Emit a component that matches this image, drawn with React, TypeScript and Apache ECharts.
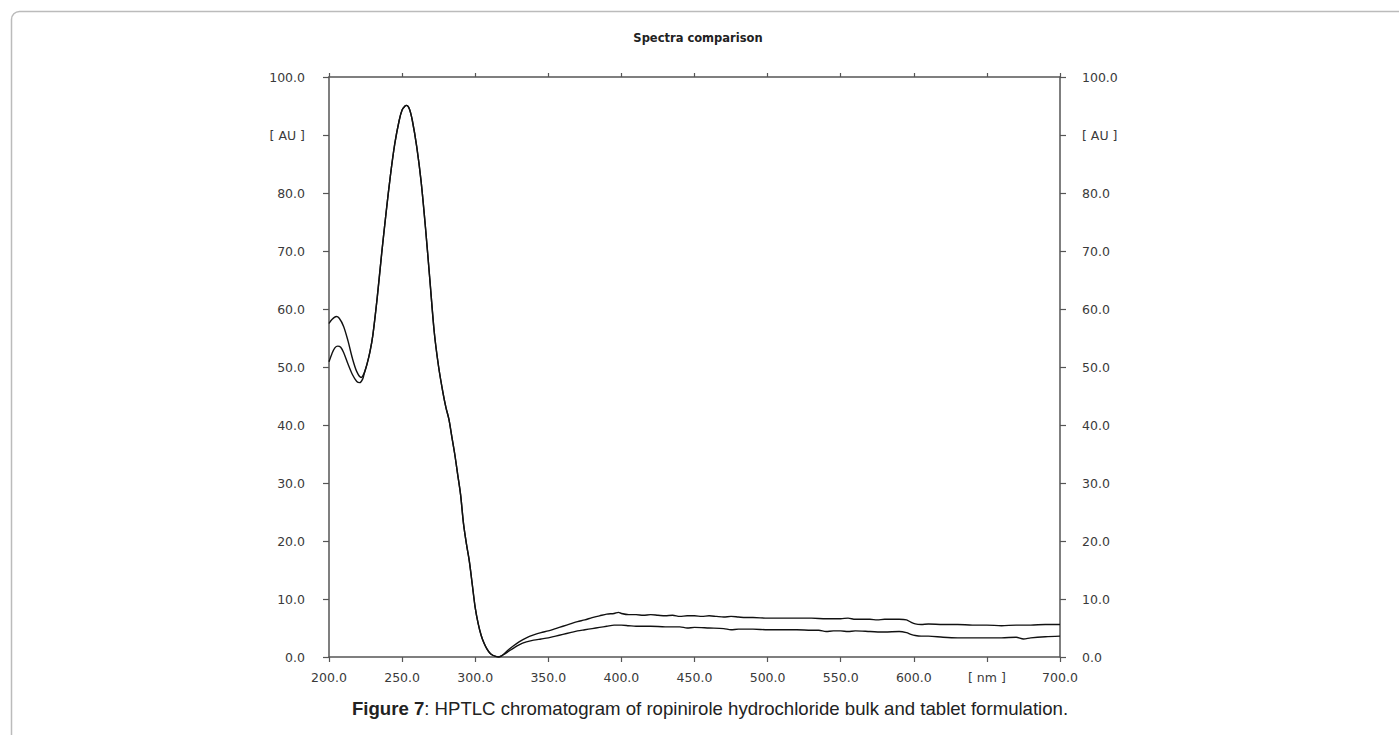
import React, { useEffect, useRef } from "react";
import * as echarts from "echarts";

// Wavelength axis (nm) and absorbance axis (AU) ticks
const nmTicks = [200, 250, 300, 350, 400, 450, 500, 550, 600, 650, 700];
const auTicks = [0, 10, 20, 30, 40, 50, 60, 70, 80, 90, 100];

// Spectrum 1 (upper trace): wavelength in nm, absorbance in AU
const spectrumANm = [
  200, 202, 205, 207, 210, 213, 216, 219, 222, 224, 226, 228, 230, 233, 236, 239, 242, 245, 248, 250,
  252, 253, 255, 257, 260, 263, 266, 269, 272, 275, 278, 280, 282, 284, 286, 288, 290, 292, 294, 296,
  298, 300, 302, 304, 306, 308, 310, 312, 314, 316, 318, 320, 323, 326, 330, 335, 340, 345, 350, 355,
  360, 365, 370, 375, 380, 385, 390, 395, 398, 400, 405, 410, 415, 420, 425, 430, 435, 440, 445, 450,
  455, 460, 465, 470, 475, 480, 485, 490, 500, 510, 520, 530, 540, 550, 555, 560, 570, 575, 580, 590,
  595, 598, 601, 605, 610, 620, 630, 640, 650, 660, 670, 680, 690, 695, 700,
];
const spectrumAAu = [
  57.5, 58.2, 58.7, 58.4, 57.0, 54.5, 51.5, 49.2, 48.2, 48.9, 50.5, 52.6, 55.5, 62.0, 69.5, 76.5, 83.0, 88.5, 92.5, 94.3,
  95.0, 95.1, 94.5, 92.5, 88.0, 82.0, 74.0, 65.0, 56.0, 50.0, 45.5, 43.0, 41.0, 38.0, 35.0, 31.5, 28.0, 23.0, 19.5, 16.5,
  12.5, 8.5, 5.8, 3.8, 2.4, 1.4, 0.7, 0.3, 0.1, 0.0, 0.2, 0.6, 1.3, 1.9, 2.6, 3.3, 3.8, 4.2, 4.5, 4.9,
  5.3, 5.7, 6.1, 6.4, 6.8, 7.1, 7.4, 7.5, 7.7, 7.5, 7.3, 7.3, 7.2, 7.3, 7.2, 7.1, 7.2, 7.0, 7.1, 7.1,
  7.0, 7.1, 7.0, 6.9, 7.0, 6.9, 6.8, 6.8, 6.7, 6.7, 6.7, 6.7, 6.6, 6.6, 6.7, 6.5, 6.5, 6.4, 6.5, 6.5,
  6.4, 6.0, 5.7, 5.6, 5.7, 5.6, 5.6, 5.5, 5.5, 5.4, 5.5, 5.5, 5.6, 5.6, 5.6,
];

// Spectrum 2 (lower trace): wavelength in nm, absorbance in AU
const spectrumBNm = [
  200, 202, 204, 206, 208, 210, 213, 216, 219, 221, 223, 224, 226, 228, 230, 233, 236, 239, 242, 245,
  248, 250, 252, 253, 255, 257, 260, 263, 266, 269, 272, 275, 278, 280, 282, 284, 286, 288, 290, 292,
  294, 296, 298, 300, 302, 304, 306, 308, 310, 312, 314, 316, 318, 320, 323, 326, 330, 335, 340, 345,
  350, 355, 360, 365, 370, 375, 380, 385, 390, 395, 400, 405, 410, 420, 430, 440, 445, 450, 460, 470,
  475, 480, 490, 500, 510, 520, 530, 535, 540, 545, 550, 555, 560, 570, 580, 590, 595, 598, 601, 605,
  610, 620, 630, 640, 650, 660, 670, 675, 680, 690, 700,
];
const spectrumBAu = [
  50.9, 52.3, 53.3, 53.6, 53.4, 52.5, 50.5, 48.7, 47.5, 47.3, 47.9, 48.8, 50.5, 52.6, 55.5, 62.0, 69.5, 76.5, 83.0, 88.5,
  92.5, 94.3, 95.0, 95.1, 94.5, 92.5, 88.0, 82.0, 74.0, 65.0, 56.0, 50.0, 45.5, 43.0, 41.0, 38.0, 35.0, 31.5, 28.0, 23.0,
  19.5, 16.5, 12.5, 8.5, 5.8, 3.8, 2.4, 1.4, 0.7, 0.3, 0.1, 0.0, 0.2, 0.5, 1.0, 1.5, 2.1, 2.6, 2.9, 3.1,
  3.3, 3.6, 3.9, 4.2, 4.5, 4.7, 4.9, 5.1, 5.3, 5.5, 5.5, 5.4, 5.3, 5.3, 5.2, 5.2, 5.0, 5.1, 5.0, 4.9,
  4.7, 4.8, 4.8, 4.7, 4.7, 4.7, 4.6, 4.6, 4.4, 4.5, 4.5, 4.4, 4.5, 4.4, 4.3, 4.4, 4.2, 3.9, 3.7, 3.6,
  3.6, 3.4, 3.3, 3.3, 3.3, 3.3, 3.4, 3.1, 3.3, 3.5, 3.6,
];

const chartTitle = "Spectra comparison";
const captionBold = "Figure 7";
const captionRest = ": HPTLC chromatogram of ropinirole hydrochloride bulk and tablet formulation.";

const pairs = (xs: number[], ys: number[]) => xs.map((x, i) => [x, ys[i]]);

const axisColor = "#555";
const labelStyle = { color: "#3a3a3a", fontFamily: "DejaVu Sans", fontSize: 12.5 };

export default function App() {
  const ref = useRef<HTMLDivElement>(null);

  useEffect(() => {
    if (!ref.current) return;
    const chart = echarts.init(ref.current, null, { renderer: "svg" });

    const nmLabel = (v: number) => (v === 650 ? "[ nm ]" : v.toFixed(1));
    const auLabel = (v: number) => (v === 90 ? "[ AU ]" : v.toFixed(1));

    const yAxisBase = {
      type: "value",
      min: auTicks[0],
      max: auTicks[auTicks.length - 1],
      interval: auTicks[1] - auTicks[0],
      splitLine: { show: false },
      axisLine: { show: true, lineStyle: { color: axisColor, width: 1.5 } },
      axisTick: { show: true, length: 6, lineStyle: { color: axisColor, width: 1.2 } },
    };

    chart.setOption({
      animation: false,
      backgroundColor: "#fff",
      grid: { left: 329, right: 339, top: 77, bottom: 78, containLabel: false },
      xAxis: [
        {
          type: "value",
          position: "bottom",
          min: nmTicks[0],
          max: nmTicks[nmTicks.length - 1],
          interval: nmTicks[1] - nmTicks[0],
          splitLine: { show: false },
          axisLine: { show: true, onZero: false, lineStyle: { color: axisColor, width: 1.5 } },
          axisTick: { show: true, length: 5, lineStyle: { color: axisColor, width: 1.2 } },
          axisLabel: { ...labelStyle, margin: 14, formatter: nmLabel },
        },
        {
          type: "value",
          position: "top",
          min: nmTicks[0],
          max: nmTicks[nmTicks.length - 1],
          interval: nmTicks[1] - nmTicks[0],
          splitLine: { show: false },
          axisLine: { show: true, onZero: false, lineStyle: { color: axisColor, width: 1.5 } },
          axisTick: { show: true, length: 4, lineStyle: { color: axisColor, width: 1.2 } },
          axisLabel: { show: false },
        },
      ],
      yAxis: [
        { ...yAxisBase, position: "left", axisLabel: { ...labelStyle, margin: 24, formatter: auLabel } },
        {
          ...yAxisBase,
          position: "right",
          axisLabel: { ...labelStyle, margin: 22, formatter: auLabel },
        },
      ],
      series: [
        {
          name: "Spectrum 1",
          type: "line",
          data: pairs(spectrumANm, spectrumAAu),
          smooth: 0.3,
          showSymbol: false,
          lineStyle: { color: "#111", width: 1.4 },
          z: 3,
        },
        {
          name: "Spectrum 2",
          type: "line",
          data: pairs(spectrumBNm, spectrumBAu),
          smooth: 0.3,
          showSymbol: false,
          lineStyle: { color: "#111", width: 1.4 },
          z: 3,
        },
      ],
      graphic: [
        {
          type: "rect",
          shape: { x: 11.5, y: 11.5, width: 1600, height: 900, r: 8 },
          style: { fill: "none", stroke: "#bbb", lineWidth: 1.5 },
          silent: true,
        },
        {
          type: "text",
          x: 698,
          y: 38,
          style: {
            text: chartTitle,
            fill: "#222",
            font: "bold 11.5px 'DejaVu Sans'",
            textAlign: "center",
            textVerticalAlign: "middle",
          },
        },
        {
          type: "text",
          x: 710,
          y: 708,
          style: {
            text: `{b|${captionBold}}${captionRest}`,
            fill: "#222",
            fontFamily: "Liberation Sans",
            fontSize: 18.6,
            textAlign: "center",
            textVerticalAlign: "middle",
            rich: {
              b: { fontWeight: "bold", fontFamily: "Liberation Sans", fontSize: 18.6, fill: "#222" },
            },
          },
        },
      ],
    });

    return () => chart.dispose();
  }, []);

  return (
    <div
      ref={ref}
      style={{ position: "fixed", left: 0, top: 0, width: 1399, height: 735 }}
    />
  );
}
